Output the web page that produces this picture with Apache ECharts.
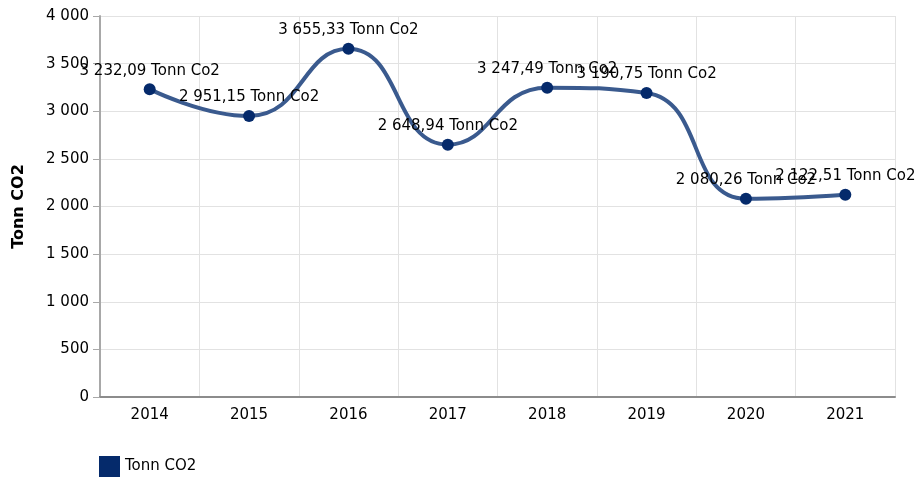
<!DOCTYPE html>
<html>
<head>
<meta charset="utf-8">
<script src="https://cdn.jsdelivr.net/npm/echarts@6/dist/echarts.min.js"></script>
<style>
html, body { margin: 0; padding: 0; background: #fff; }
#chart { width: 924px; height: 477px; }
</style>
</head>
<body>
<div id="chart"></div>
<script>
var years = ['2014', '2015', '2016', '2017', '2018', '2019', '2020', '2021'];
var tonnCo2 = [3232.09, 2951.15, 3655.33, 2648.94, 3247.49, 3190.75, 2080.26, 2122.51];
var yTicks = [0, 500, 1000, 1500, 2000, 2500, 3000, 3500, 4000];

// 3232.09 -> "3 232,09"
function fmtNum(v, dec) {
	var s = v.toFixed(dec).split('.');
	var intPart = s[0].replace(/\B(?=(\d{3})+(?!\d))/g, ' ');
	return s.length > 1 ? intPart + ',' + s[1] : intPart;
}

var font = '"DejaVu Sans", sans-serif';

var chart = echarts.init(document.getElementById('chart'));
chart.setOption({
	animation: false,
	textStyle: { fontFamily: font },
	grid: { left: 100, right: 29, top: 16, bottom: 80, containLabel: false, outerBoundsMode: 'none' },
	legend: {
		left: 99,
		top: 456,
		padding: 0,
		itemWidth: 21,
		itemHeight: 21,
		itemGap: 6,
		icon: 'rect',
		textStyle: { fontFamily: font, fontSize: 15, color: '#000', padding: [4, 0, 0, 0] },
		data: [{ name: 'Tonn CO2', itemStyle: { color: '#052a6b' } }]
	},
	xAxis: {
		type: 'category',
		data: years,
		boundaryGap: true,
		axisLine: { lineStyle: { color: '#8c8c8c', width: 2 } },
		axisTick: { alignWithLabel: true, length: 7, lineStyle: { color: '#8c8c8c', width: 1 } },
		axisLabel: { color: '#000', fontSize: 15, margin: 11, fontFamily: font },
		splitLine: { show: true, lineStyle: { color: '#e2e2e2', width: 1 } }
	},
	yAxis: {
		type: 'value',
		min: 0,
		max: 4000,
		interval: 500,
		name: 'Tonn CO2',
		nameLocation: 'middle',
		nameGap: 73,
		nameTextStyle: { fontWeight: 'bold', fontSize: 16, color: '#000', fontFamily: font },
		axisLine: { show: true, lineStyle: { color: '#a8a8a8', width: 2 } },
		axisTick: { show: true, length: 7, lineStyle: { color: '#a8a8a8' } },
		axisLabel: {
			color: '#000', fontSize: 15, margin: 11, fontFamily: font,
			formatter: function (v) { return fmtNum(v, 0); }
		},
		splitLine: { lineStyle: { color: '#e2e2e2', width: 1 } }
	},
	series: [{
		name: 'Tonn CO2',
		type: 'line',
		data: tonnCo2,
		smooth: 0.5,
		symbol: 'circle',
		symbolSize: 12,
		lineStyle: { color: '#3a5a8e', width: 4 },
		itemStyle: { color: '#052a6b' },
		label: {
			show: true,
			position: 'top',
			distance: 5,
			color: '#000',
			fontSize: 15,
			fontFamily: font,
			formatter: function (p) { return fmtNum(p.value, 2) + ' Tonn Co2'; }
		},
		labelLayout: { hideOverlap: false }
	}]
});
</script>
</body>
</html>
